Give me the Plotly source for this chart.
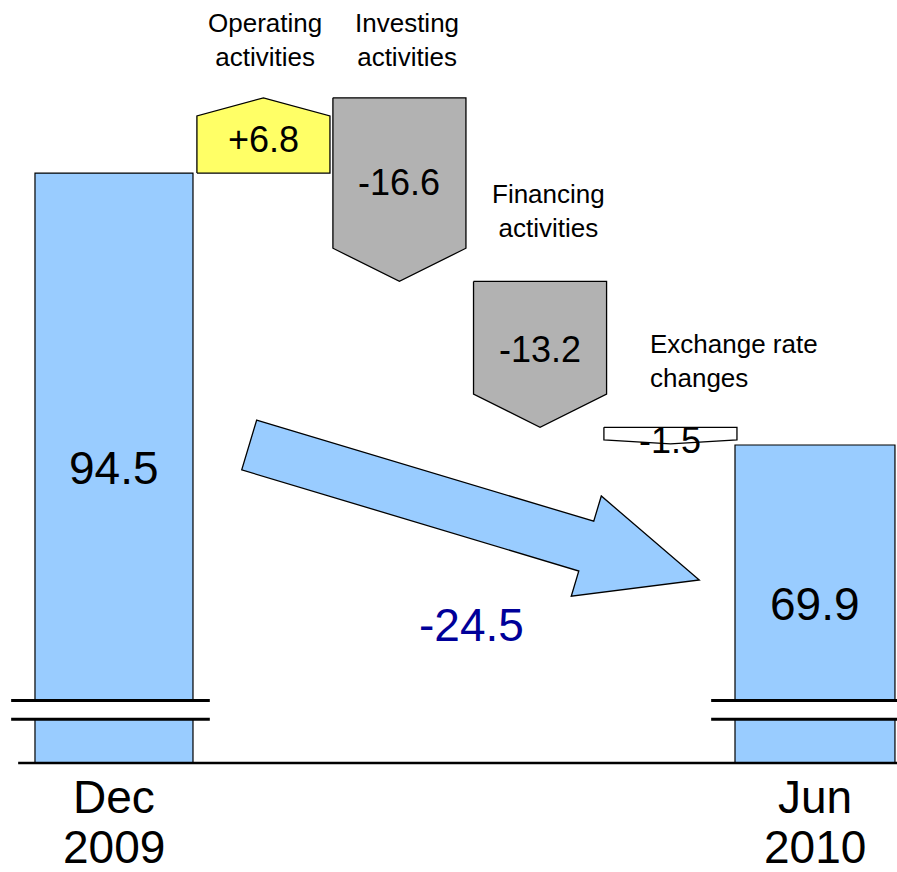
import plotly.graph_objects as go
import math

# ---------------- data ----------------
total_labels = ["Dec 2009", "Jun 2010"]
total_values = [94.5, 69.9]
step_names = ["Operating<br>activities", "Investing<br>activities",
              "Financing<br>activities", "Exchange rate<br>changes"]
step_values = [6.8, -16.6, -13.2, -1.5]
step_text = ["+6.8", "-16.6", "-13.2", "-1.5"]
net_change_text = "-24.5"

# ---------------- layout / style constants ----------------
W, H = 897, 872
MARGIN_B = 109
PLOT_H = H - MARGIN_B
SLOT_X = [0.0, 1.066, 2.036, 3.039, 3.969, 5.0]   # slot centres on x axis
TOTAL_W = [1.127, 1.141]
STEP_W = 0.949
X_RANGE = [-0.813, 5.585]
Y_RANGE = [41.14, 110.15]
BREAK_Y = (45.1, 46.8)
FONT = "Liberation Sans, Arial, sans-serif"
BLUE = "#99CCFF"
STEP_COLORS = ["#FFFF66", "#B2B2B2", "#B2B2B2", "#FFFFFF"]
LABEL_YSHIFT = [58, 58, 70, 66]
LABEL_XSHIFT = [2, 8, 8, -22]
LABEL_ANCHOR = ["center", "center", "center", "left"]
VALUE_YSHIFT = [-4, 7, 5, -5]

def paper_x_from_px(px):
    return px / W

def paper_y_from_px(py):
    return 1 - py / PLOT_H

fig = go.Figure()

# totals (bars clipped by the broken axis)
fig.add_trace(go.Bar(
    x=[SLOT_X[0], SLOT_X[-1]], y=total_values, width=TOTAL_W,
    marker=dict(color=BLUE, line=dict(color="black", width=1.2)),
    hoverinfo="skip", showlegend=False))

# steps as arrow-shaped polygons
level = total_values[0]
annotations = []
for i, v in enumerate(step_values):
    s, e = level, level + v
    xc = SLOT_X[i + 1]
    xl, xr = xc - STEP_W / 2, xc + STEP_W / 2
    tip = min(0.24 * abs(v), 3.0)
    shoulder = e - tip if v > 0 else e + tip
    xs = [xl, xr, xr, xc, xl, xl]
    ys = [s, s, shoulder, e, shoulder, s]
    fig.add_trace(go.Scatter(
        x=xs, y=ys, mode="lines", fill="toself", fillcolor=STEP_COLORS[i],
        line=dict(color="black", width=1.3), hoverinfo="skip", showlegend=False))
    annotations.append(dict(
        x=xc, y=(s + e) / 2, xref="x", yref="y", text=step_text[i],
        showarrow=False, font=dict(family=FONT, size=36, color="black"),
        xanchor="center", yanchor="middle", yshift=VALUE_YSHIFT[i]))
    annotations.append(dict(
        x=xc, y=max(s, e), xref="x", yref="y", text=step_names[i],
        showarrow=False, font=dict(family=FONT, size=26, color="black"),
        xanchor=LABEL_ANCHOR[i], yanchor="middle", align=LABEL_ANCHOR[i],
        xshift=LABEL_XSHIFT[i], yshift=LABEL_YSHIFT[i]))
    level = e

# total value labels and category labels
for j, (lab, val) in enumerate(zip(total_labels, total_values)):
    xc = SLOT_X[0] if j == 0 else SLOT_X[-1]
    annotations.append(dict(
        x=xc, y=(Y_RANGE[0] + val) / 2, xref="x", yref="y", text=str(val),
        showarrow=False, font=dict(family=FONT, size=46, color="black"),
        xanchor="center", yanchor="middle"))
    month, year = lab.split(" ")
    annotations.append(dict(
        x=xc, y=paper_y_from_px(797), xref="x", yref="paper", text=month,
        showarrow=False, font=dict(family=FONT, size=46, color="black"),
        xanchor="center", yanchor="middle"))
    annotations.append(dict(
        x=xc, y=paper_y_from_px(847), xref="x", yref="paper", text=year,
        showarrow=False, font=dict(family=FONT, size=46, color="black"),
        xanchor="center", yanchor="middle"))

# net change label
annotations.append(dict(
    x=paper_x_from_px(471), y=paper_y_from_px(625), xref="paper", yref="paper",
    text=net_change_text, showarrow=False,
    font=dict(family=FONT, size=46, color="#000099"),
    xanchor="center", yanchor="middle"))

shapes = []
# axis break marks
for j in range(2):
    xc = SLOT_X[0] if j == 0 else SLOT_X[-1]
    x0 = xc - TOTAL_W[j] / 2 - 0.17
    x1 = xc + TOTAL_W[j] / 2 + 0.12
    shapes.append(dict(type="rect", xref="x", yref="y", x0=x0, x1=x1,
                       y0=BREAK_Y[0], y1=BREAK_Y[1], fillcolor="white",
                       line=dict(width=0), layer="above"))
    for yb in BREAK_Y:
        shapes.append(dict(type="line", xref="x", yref="y", x0=x0, x1=x1,
                           y0=yb, y1=yb, line=dict(color="black", width=3),
                           layer="above"))

# baseline
x_axis_start = SLOT_X[0] - TOTAL_W[0] / 2 - 0.12
shapes.append(dict(type="line", xref="paper", yref="paper",
                   x0=(x_axis_start - X_RANGE[0]) / (X_RANGE[1] - X_RANGE[0]), x1=1,
                   y0=0, y1=0, line=dict(color="black", width=2.5), layer="above"))

# big decorative arrow (pixel geometry -> paper)
tail = (249.2, 445.0)
tipp = (699.3, 580.0)
shaft_half, head_half, head_len = 26.0, 52.3, 118.0
dx, dy = tipp[0] - tail[0], tipp[1] - tail[1]
L = math.hypot(dx, dy)
ux, uy = dx / L, dy / L
nx, ny = -uy, ux
bx, by = tipp[0] - ux * head_len, tipp[1] - uy * head_len
pts = [
    (tail[0] - nx * shaft_half, tail[1] - ny * shaft_half),
    (bx - nx * shaft_half, by - ny * shaft_half),
    (bx - nx * head_half, by - ny * head_half),
    tipp,
    (bx + nx * head_half, by + ny * head_half),
    (bx + nx * shaft_half, by + ny * shaft_half),
    (tail[0] + nx * shaft_half, tail[1] + ny * shaft_half),
]
path = "M " + " L ".join(f"{paper_x_from_px(px):.5f},{paper_y_from_px(py):.5f}" for px, py in pts) + " Z"
shapes.append(dict(type="path", xref="paper", yref="paper", path=path,
                   fillcolor=BLUE, line=dict(color="black", width=1.3), layer="above"))

fig.update_layout(
    width=W, height=H,
    margin=dict(l=0, r=0, t=0, b=MARGIN_B),
    paper_bgcolor="white", plot_bgcolor="white",
    xaxis=dict(range=X_RANGE, visible=False, fixedrange=True),
    yaxis=dict(range=Y_RANGE, visible=False, fixedrange=True),
    showlegend=False, barmode="overlay",
    annotations=annotations, shapes=shapes,
)

fig.write_html("out.html")
